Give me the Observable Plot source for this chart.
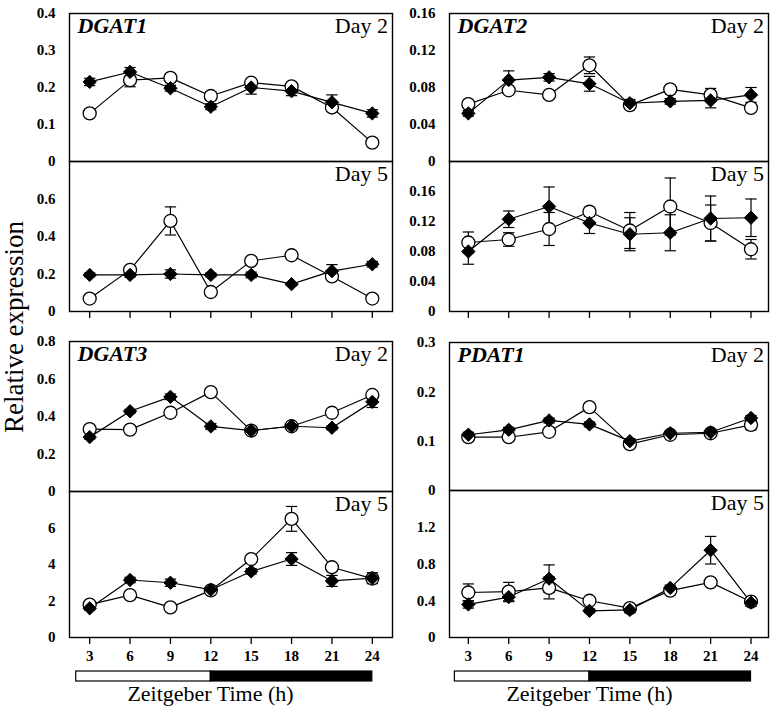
<!DOCTYPE html>
<html>
<head>
<meta charset="utf-8">
<script src="https://cdn.jsdelivr.net/npm/d3@7"></script>
<script src="https://cdn.jsdelivr.net/npm/@observablehq/plot@0.6"></script>
<style>
  html, body { margin: 0; padding: 0; background: white; }
  #root { position: relative; width: 774px; height: 712px; background: white; overflow: hidden;
          font-family: 'Liberation Serif', 'Times New Roman', serif; color: black; }
  .lbl { position: absolute; white-space: nowrap; font-family: 'Liberation Serif', 'Times New Roman', serif; }
  #root svg text { font-family: 'Liberation Serif', 'Times New Roman', serif; }
</style>
</head>
<body>
<div id="root"></div>
<script>
// ---------- data ----------
const hours = [3, 6, 9, 12, 15, 18, 21, 24];
const xTickLabels = [3, 6, 9, 12, 15, 18, 21, 24];

// DGAT1
const dgat1Day2Open = [0.130, 0.220, 0.226, 0.177, 0.213, 0.203, 0.146, 0.051];
const dgat1Day2OpenErr = [0, 0.018, 0, 0.012, 0.010, 0.008, 0.010, 0];
const dgat1Day2Filled = [0.215, 0.242, 0.198, 0.148, 0.200, 0.190, 0.160, 0.130];
const dgat1Day2FilledErr = [0.010, 0.012, 0.008, 0.008, 0.018, 0.012, 0.020, 0.010];
const dgat1Day5Open = [0.069, 0.222, 0.483, 0.104, 0.270, 0.300, 0.187, 0.069];
const dgat1Day5OpenErr = [0, 0.010, 0.075, 0, 0.012, 0.012, 0.010, 0];
const dgat1Day5Filled = [0.195, 0.195, 0.200, 0.195, 0.195, 0.146, 0.215, 0.252];
const dgat1Day5FilledErr = [0.010, 0.012, 0.022, 0.010, 0.015, 0.008, 0.035, 0.015];

// DGAT2
const dgat2Day2Open = [0.062, 0.077, 0.072, 0.104, 0.061, 0.078, 0.072, 0.058];
const dgat2Day2OpenErr = [0.002, 0.002, 0, 0.009, 0.002, 0, 0.007, 0];
const dgat2Day2Filled = [0.052, 0.088, 0.091, 0.084, 0.063, 0.065, 0.066, 0.072];
const dgat2Day2FilledErr = [0.003, 0.010, 0.004, 0.008, 0.004, 0.003, 0.008, 0.008];
const dgat2Day5Open = [0.092, 0.096, 0.110, 0.133, 0.108, 0.140, 0.118, 0.083];
const dgat2Day5OpenErr = [0.014, 0.009, 0.022, 0.006, 0.024, 0.038, 0.024, 0.013];
const dgat2Day5Filled = [0.080, 0.123, 0.140, 0.118, 0.103, 0.105, 0.124, 0.125];
const dgat2Day5FilledErr = [0.017, 0.011, 0.026, 0.014, 0.022, 0.024, 0.030, 0.025];

// DGAT3
const dgat3Day2Open = [0.333, 0.330, 0.420, 0.530, 0.325, 0.348, 0.420, 0.515];
const dgat3Day2OpenErr = [0.010, 0, 0, 0.015, 0, 0, 0, 0.010];
const dgat3Day2Filled = [0.290, 0.428, 0.505, 0.347, 0.325, 0.348, 0.340, 0.478];
const dgat3Day2FilledErr = [0.010, 0.010, 0.015, 0.015, 0.010, 0.010, 0.010, 0.030];
const dgat3Day5Open = [1.80, 2.32, 1.65, 2.58, 4.30, 6.50, 3.85, 3.23];
const dgat3Day5OpenErr = [0.10, 0.10, 0.10, 0.10, 0.10, 0.68, 0.20, 0.15];
const dgat3Day5Filled = [1.60, 3.15, 3.00, 2.62, 3.62, 4.30, 3.10, 3.25];
const dgat3Day5FilledErr = [0.10, 0.15, 0.20, 0.10, 0.15, 0.35, 0.30, 0.30];

// PDAT1
const pdat1Day2Open = [0.108, 0.108, 0.119, 0.169, 0.094, 0.113, 0.116, 0.133];
const pdat1Day2OpenErr = [0.004, 0, 0, 0, 0, 0, 0, 0.010];
const pdat1Day2Filled = [0.113, 0.123, 0.142, 0.134, 0.100, 0.116, 0.118, 0.147];
const pdat1Day2FilledErr = [0.005, 0.005, 0.005, 0.005, 0.005, 0.004, 0.005, 0.005];
const pdat1Day5Open = [0.49, 0.50, 0.54, 0.40, 0.32, 0.51, 0.60, 0.39];
const pdat1Day5OpenErr = [0.093, 0.10, 0.12, 0.03, 0.02, 0.03, 0.02, 0.02];
const pdat1Day5Filled = [0.36, 0.44, 0.64, 0.29, 0.30, 0.54, 0.95, 0.38];
const pdat1Day5FilledErr = [0.04, 0.05, 0.15, 0.02, 0.03, 0.03, 0.15, 0.04];

// y-axis domains and tick labels
const dgat1Day2Max = 0.4, dgat1Day5Max = 0.8;
const dgat1Day2Ticks = [0, 0.1, 0.2, 0.3, 0.4];
const dgat1Day5Ticks = [0, 0.2, 0.4, 0.6];
const dgat2Day2Max = 0.16, dgat2Day5Max = 0.2;
const dgat2Day2Ticks = [0, 0.04, 0.08, 0.12, 0.16];
const dgat2Day5Ticks = [0, 0.04, 0.08, 0.12, 0.16];
const dgat3Day2Max = 0.8, dgat3Day5Max = 8;
const dgat3Day2Ticks = [0, 0.2, 0.4, 0.6, 0.8];
const dgat3Day5Ticks = [0, 2, 4, 6];
const pdat1Day2Max = 0.3, pdat1Day5Max = 1.6;
const pdat1Day2Ticks = [0, 0.1, 0.2, 0.3];
const pdat1Day5Ticks = [0, 0.4, 0.8, 1.2];

// light / dark phases
const phaseStart = [2, 12];
const phaseEnd = [12, 24];
const phaseFill = ["white", "black"];

// ---------- drawing ----------
const root = document.getElementById("root");
const FONT = "'Liberation Serif', 'Times New Roman', serif";
const ML = 60, MR = 6;
const fmt = d => d === 0 ? "0" : String(d);

function panel(cfg) {
  const { left, top, frameW, frameH, mb, xDomain, yMax, yTicks,
          open, openErr, filled, filledErr, gene, day, xMode } = cfg;
  const rows = (v, e) => hours.map((h, i) => ({ x: h, y: v[i], e: e[i] }));
  const O = rows(open, openErr), F = rows(filled, filledErr);
  const errRows = [...O, ...F].filter(d => d.e > 0);
  const marks = [
    Plot.line(O, { x: "x", y: "y", stroke: "black", strokeWidth: 1.2 }),
    Plot.line(F, { x: "x", y: "y", stroke: "black", strokeWidth: 1.2 }),
    Plot.ruleX(errRows, { x: "x", y1: d => d.y - d.e, y2: d => d.y + d.e, stroke: "black", strokeWidth: 1.2 }),
    Plot.link(errRows, { x1: d => d.x - 0.42, x2: d => d.x + 0.42, y1: d => d.y + d.e, y2: d => d.y + d.e, stroke: "black", strokeWidth: 1.2 }),
    Plot.link(errRows, { x1: d => d.x - 0.42, x2: d => d.x + 0.42, y1: d => d.y - d.e, y2: d => d.y - d.e, stroke: "black", strokeWidth: 1.2 }),
    Plot.dot(O, { x: "x", y: "y", r: 6.5, fill: "white", stroke: "black", strokeWidth: 1.3 }),
    Plot.dot(F, { x: "x", y: "y", r: 6, symbol: "diamond2", fill: "black", stroke: "black", strokeWidth: 1 }),
    Plot.frame({ stroke: "black", strokeWidth: 1.4 }),
    Plot.axisY({ ticks: yTicks, tickSize: 0, tickPadding: 14, tickFormat: fmt, fontSize: 15, fontWeight: "bold", fontFamily: FONT, label: null })
  ];
  if (gene) marks.push(Plot.text([gene], { frameAnchor: "top-left", dx: 8, dy: 4, lineAnchor: "top", textAnchor: "start", fontSize: 22, fontWeight: "bold", fontStyle: "italic", fontFamily: FONT }));
  marks.push(Plot.text([day], { frameAnchor: "top-right", dx: -4.5, dy: 4, lineAnchor: "top", textAnchor: "end", fontSize: 22, fontFamily: FONT }));
  if (xMode === "ticks") {
    marks.push(Plot.axisX({ ticks: xTickLabels, tickSize: 7, tickFormat: () => "", strokeWidth: 1.3, label: null }));
  } else if (xMode === "labels") {
    marks.push(Plot.axisX({ ticks: xTickLabels, tickSize: 7, tickPadding: 6, fontSize: 15, fontWeight: "bold", fontFamily: FONT, strokeWidth: 1.3, label: null }));
  }
  const mt = 2;
  const svg = Plot.plot({
    width: ML + frameW + MR,
    height: mt + frameH + mb,
    marginLeft: ML, marginRight: MR, marginTop: mt, marginBottom: mb,
    x: { domain: xDomain, axis: xMode === "none" ? null : undefined, label: null },
    y: { domain: [0, yMax], label: null },
    style: { background: "transparent", overflow: "visible", fontFamily: FONT, color: "black", maxWidth: "none" },
    marks
  });
  svg.style.position = "absolute";
  svg.style.left = (left - ML) + "px";
  svg.style.top = (top - mt) + "px";
  root.appendChild(svg);
}

function phaseBar(left, top, frameW, xDomain) {
  const phases = phaseStart.map((s, i) => ({ start: s, end: phaseEnd[i], fill: phaseFill[i] }));
  const svg = Plot.plot({
    width: ML + frameW + MR, height: 10,
    marginLeft: ML, marginRight: MR, marginTop: 0, marginBottom: 0,
    x: { domain: xDomain, axis: null },
    color: { type: "identity" },
    style: { background: "transparent", overflow: "visible", maxWidth: "none" },
    marks: [Plot.rect(phases, { x1: "start", x2: "end", fill: "fill", stroke: "black", strokeWidth: 1.2 })]
  });
  svg.style.position = "absolute";
  svg.style.left = (left - ML) + "px";
  svg.style.top = top + "px";
  root.appendChild(svg);
}

const LX = 69, LW = 323, LDom = [1.5, 25.5];
const RX = 449, RW = 319, RDom = [1.6, 25.3];

panel({ left: LX, top: 13, frameW: LW, frameH: 148, mb: 2, xDomain: LDom, yMax: dgat1Day2Max, yTicks: dgat1Day2Ticks,
        open: dgat1Day2Open, openErr: dgat1Day2OpenErr, filled: dgat1Day2Filled, filledErr: dgat1Day2FilledErr, gene: "DGAT1", day: "Day 2", xMode: "none" });
panel({ left: LX, top: 161, frameW: LW, frameH: 150, mb: 12, xDomain: LDom, yMax: dgat1Day5Max, yTicks: dgat1Day5Ticks,
        open: dgat1Day5Open, openErr: dgat1Day5OpenErr, filled: dgat1Day5Filled, filledErr: dgat1Day5FilledErr, gene: null, day: "Day 5", xMode: "ticks" });
panel({ left: RX, top: 13, frameW: RW, frameH: 148, mb: 2, xDomain: RDom, yMax: dgat2Day2Max, yTicks: dgat2Day2Ticks,
        open: dgat2Day2Open, openErr: dgat2Day2OpenErr, filled: dgat2Day2Filled, filledErr: dgat2Day2FilledErr, gene: "DGAT2", day: "Day 2", xMode: "none" });
panel({ left: RX, top: 161, frameW: RW, frameH: 150, mb: 12, xDomain: RDom, yMax: dgat2Day5Max, yTicks: dgat2Day5Ticks,
        open: dgat2Day5Open, openErr: dgat2Day5OpenErr, filled: dgat2Day5Filled, filledErr: dgat2Day5FilledErr, gene: null, day: "Day 5", xMode: "ticks" });

panel({ left: LX, top: 341, frameW: LW, frameH: 150, mb: 2, xDomain: LDom, yMax: dgat3Day2Max, yTicks: dgat3Day2Ticks,
        open: dgat3Day2Open, openErr: dgat3Day2OpenErr, filled: dgat3Day2Filled, filledErr: dgat3Day2FilledErr, gene: "DGAT3", day: "Day 2", xMode: "none" });
panel({ left: LX, top: 491, frameW: LW, frameH: 146, mb: 30, xDomain: LDom, yMax: dgat3Day5Max, yTicks: dgat3Day5Ticks,
        open: dgat3Day5Open, openErr: dgat3Day5OpenErr, filled: dgat3Day5Filled, filledErr: dgat3Day5FilledErr, gene: null, day: "Day 5", xMode: "labels" });
panel({ left: RX, top: 342, frameW: RW, frameH: 148, mb: 2, xDomain: RDom, yMax: pdat1Day2Max, yTicks: pdat1Day2Ticks,
        open: pdat1Day2Open, openErr: pdat1Day2OpenErr, filled: pdat1Day2Filled, filledErr: pdat1Day2FilledErr, gene: "PDAT1", day: "Day 2", xMode: "none" });
panel({ left: RX, top: 490, frameW: RW, frameH: 147, mb: 30, xDomain: RDom, yMax: pdat1Day5Max, yTicks: pdat1Day5Ticks,
        open: pdat1Day5Open, openErr: pdat1Day5OpenErr, filled: pdat1Day5Filled, filledErr: pdat1Day5FilledErr, gene: null, day: "Day 5", xMode: "labels" });

phaseBar(LX, 671, LW, LDom);
phaseBar(RX, 671, RW, RDom);

// axis titles
function label(text, cx, cy, size, rotate) {
  const d = document.createElement("div");
  d.className = "lbl";
  d.textContent = text;
  d.style.fontSize = size + "px";
  d.style.lineHeight = "1";
  d.style.left = cx + "px";
  d.style.top = cy + "px";
  d.style.transform = "translate(-50%, -50%)" + (rotate ? " rotate(-90deg)" : "");
  root.appendChild(d);
}
label("Zeitgeber Time (h)", 210.5, 694, 22, false);
label("Zeitgeber Time (h)", 589.5, 694, 22, false);
label("Relative expression", 14, 327, 27, true);
</script>
</body>
</html>
